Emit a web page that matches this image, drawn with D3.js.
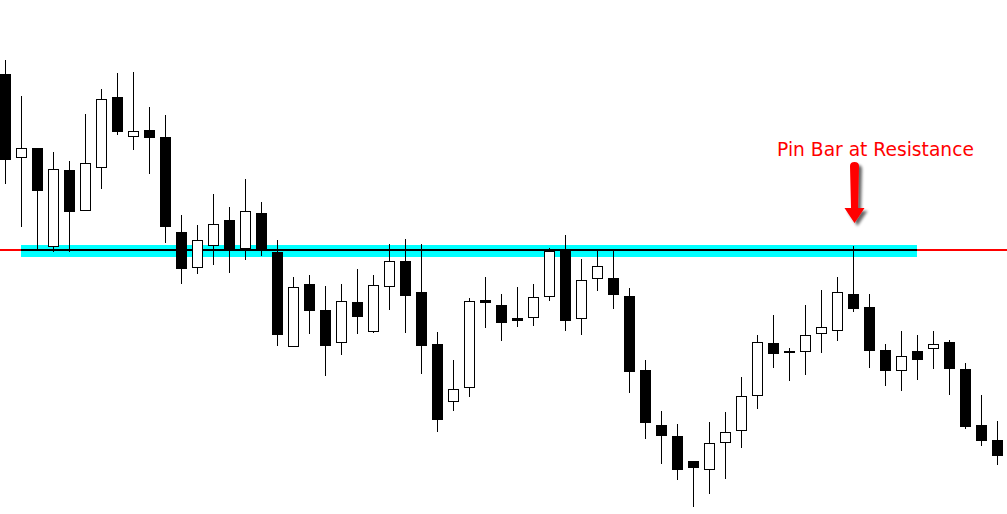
<!DOCTYPE html>
<html>
<head>
<meta charset="utf-8">
<script src="https://cdn.jsdelivr.net/npm/d3@7"></script>
<style>
  html, body { margin: 0; padding: 0; background: #ffffff; overflow: hidden; }
  svg { display: block; }
</style>
</head>
<body>
<svg id="chart" width="1007" height="514"></svg>
<script>
// ---- Data (prices) ----
const opens  = [1.2440,1.2356,1.2366,1.2267,1.2344,1.2303,1.2346,1.2417,1.2377,1.2384,1.2377,1.2282,1.2246,1.2268,1.2294,1.2265,1.2301,1.2262,1.2167,1.2230,1.2204,1.2171,1.2212,1.2182,1.2227,1.2253,1.2222,1.2170,1.2112,1.2126,1.2214,1.2209,1.2196,1.2196,1.2217,1.2264,1.2195,1.2235,1.2236,1.2218,1.2144,1.2089,1.2078,1.2053,1.2044,1.2071,1.2083,1.2118,1.2171,1.2163,1.2162,1.2180,1.2183,1.2220,1.2207,1.2164,1.2143,1.2163,1.2165,1.2172,1.2145,1.2089,1.2074];
const highs  = [1.2454,1.2418,1.2366,1.2362,1.2353,1.2400,1.2425,1.2441,1.2442,1.2407,1.2399,1.2299,1.2289,1.2320,1.2307,1.2335,1.2312,1.2274,1.2237,1.2239,1.2228,1.2230,1.2245,1.2239,1.2270,1.2275,1.2270,1.2182,1.2154,1.2216,1.2237,1.2220,1.2227,1.2230,1.2266,1.2279,1.2255,1.2264,1.2264,1.2226,1.2154,1.2103,1.2090,1.2053,1.2092,1.2102,1.2137,1.2179,1.2199,1.2166,1.2209,1.2224,1.2237,1.2268,1.2220,1.2170,1.2183,1.2179,1.2183,1.2174,1.2151,1.2119,1.2093];
const lows   = [1.2330,1.2287,1.2265,1.2262,1.2262,1.2303,1.2325,1.2379,1.2364,1.2340,1.2271,1.2230,1.2240,1.2249,1.2241,1.2254,1.2258,1.2168,1.2167,1.2180,1.2138,1.2159,1.2180,1.2181,1.2204,1.2181,1.2140,1.2082,1.2103,1.2117,1.2186,1.2173,1.2187,1.2188,1.2213,1.2183,1.2179,1.2223,1.2205,1.2121,1.2075,1.2050,1.2034,1.2007,1.2020,1.2035,1.2066,1.2105,1.2146,1.2133,1.2139,1.2161,1.2173,1.2202,1.2146,1.2128,1.2123,1.2134,1.2145,1.2119,1.2085,1.2068,1.2049];
const closes = [1.2354,1.2366,1.2323,1.2345,1.2302,1.2351,1.2415,1.2382,1.2383,1.2376,1.2287,1.2245,1.2274,1.2290,1.2264,1.2303,1.2264,1.2179,1.2227,1.2203,1.2168,1.2213,1.2197,1.2229,1.2253,1.2218,1.2168,1.2094,1.2125,1.2213,1.2211,1.2191,1.2193,1.2217,1.2263,1.2193,1.2234,1.2248,1.2219,1.2142,1.2091,1.2078,1.2044,1.2046,1.2071,1.2082,1.2118,1.2172,1.2160,1.2161,1.2179,1.2187,1.2222,1.2205,1.2163,1.2143,1.2158,1.2154,1.2170,1.2145,1.2087,1.2073,1.2058];

const resistanceLevel = 1.2264;
const zoneTop = 1.2269, zoneBottom = 1.2257;
const zoneStartBar = 1, zoneEndBar = 57;
const pinBarIndex = 53;
const annotation = "Pin Bar at Resistance";

// ---- Build ----
const W = 1007, H = 514;
const bars = opens.map((o, i) => ({ i, o, h: highs[i], l: lows[i], c: closes[i] }));

const x = d3.scaleLinear().domain([0, bars.length - 1]).range([5.5, 5.5 + 16 * (bars.length - 1)]);
const y = d3.scaleLinear().domain([1.2000, 1.2514]).range([H, 0]);
const bodyW = 11;

const svg = d3.select("#chart");
svg.append("rect").attr("width", W).attr("height", H).attr("fill", "#ffffff");

// red resistance line across full width
svg.append("line")
  .attr("x1", 0).attr("x2", W)
  .attr("y1", y(resistanceLevel)).attr("y2", y(resistanceLevel))
  .attr("stroke", "#ff0000").attr("stroke-width", 2);

// cyan zone
svg.append("rect")
  .attr("x", x(zoneStartBar) - 0.5)
  .attr("width", x(zoneEndBar) - x(zoneStartBar))
  .attr("y", y(zoneTop))
  .attr("height", y(zoneBottom) - y(zoneTop))
  .attr("fill", "#00ffff");

// black line inside zone
svg.append("line")
  .attr("x1", x(zoneStartBar) - 0.5).attr("x2", x(zoneEndBar) - 0.5)
  .attr("y1", y(resistanceLevel)).attr("y2", y(resistanceLevel))
  .attr("stroke", "#000000").attr("stroke-width", 2);

// candles
const g = svg.append("g");
const cand = g.selectAll("g.c").data(bars).join("g").attr("class", "c");

cand.each(function(d) {
  const sel = d3.select(this);
  const cx = x(d.i);
  const bull = d.c > d.o;
  const top = y(Math.max(d.o, d.c)), bot = y(Math.min(d.o, d.c));
  if (bull) {
    sel.append("line").attr("x1", cx).attr("x2", cx)
      .attr("y1", y(d.h)).attr("y2", top).attr("stroke", "#000").attr("stroke-width", 1);
    sel.append("line").attr("x1", cx).attr("x2", cx)
      .attr("y1", bot).attr("y2", y(d.l)).attr("stroke", "#000").attr("stroke-width", 1);
    sel.append("rect")
      .attr("x", cx - bodyW / 2 + 0.5).attr("width", bodyW - 1)
      .attr("y", top + 0.5).attr("height", Math.max(0, bot - top - 1))
      .attr("fill", "#ffffff").attr("stroke", "#000").attr("stroke-width", 1);
  } else {
    sel.append("line").attr("x1", cx).attr("x2", cx)
      .attr("y1", y(d.h)).attr("y2", y(d.l)).attr("stroke", "#000").attr("stroke-width", 1);
    sel.append("rect")
      .attr("x", cx - bodyW / 2).attr("width", bodyW)
      .attr("y", top).attr("height", Math.max(2, bot - top))
      .attr("fill", "#000");
  }
});

// annotation
const pin = bars[pinBarIndex];
const ax = x(pin.i) + 1;
const tipY = y(pin.h) - 23;

const defs = svg.append("defs");
const f = defs.append("filter").attr("id", "sh").attr("x", "-50%").attr("y", "-50%").attr("width", "200%").attr("height", "200%");
f.append("feGaussianBlur").attr("in", "SourceAlpha").attr("stdDeviation", 1.5).attr("result", "b");
f.append("feOffset").attr("in", "b").attr("dx", 3).attr("dy", 3).attr("result", "o");
f.append("feComponentTransfer").attr("in", "o").attr("result", "s")
  .append("feFuncA").attr("type", "linear").attr("slope", 0.6);
const m = f.append("feMerge");
m.append("feMergeNode").attr("in", "s");
m.append("feMergeNode").attr("in", "SourceGraphic");

const shaftTop = tipY - 61, headTop = tipY - 15;
const p = d3.path();
p.moveTo(ax - 4.5, shaftTop + 4);
p.quadraticCurveTo(ax - 4.5, shaftTop, ax, shaftTop);
p.quadraticCurveTo(ax + 4.5, shaftTop, ax + 4.5, shaftTop + 4);
p.lineTo(ax + 3.5, headTop);
p.lineTo(ax + 10, headTop);
p.lineTo(ax, tipY);
p.lineTo(ax - 10, headTop);
p.lineTo(ax - 3.5, headTop);
p.closePath();
svg.append("path").attr("d", p.toString()).attr("fill", "#ff0000").attr("filter", "url(#sh)");

const label = svg.append("text")
  .attr("x", x(pin.i) + 22).attr("y", tipY - 67)
  .attr("text-anchor", "middle")
  .attr("font-family", "'DejaVu Sans', 'Open Sans', sans-serif")
  .attr("font-size", 18)
  .attr("fill", "#ff0000")
  .text(annotation);
// fit the label to the width it has in the picture
const targetW = 197;
const len = label.node().getComputedTextLength();
if (len > 0) label.attr("font-size", (18 * targetW / len).toFixed(2));
</script>
</body>
</html>
